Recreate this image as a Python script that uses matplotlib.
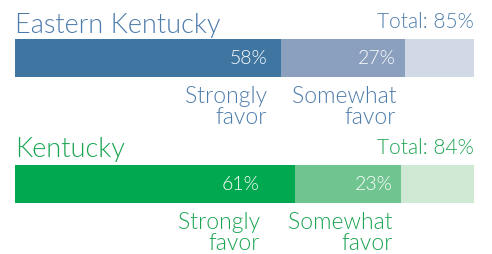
import matplotlib.pyplot as plt

# data
groups = ["Eastern Kentucky", "Kentucky"]
strongly = [58, 61]
somewhat = [27, 23]
totals = [85, 84]
segment_labels = ["Strongly\nfavor", "Somewhat\nfavor"]

# styling per group
dark = ["#3e76a1", "#00a84f"]
mid = ["#8aa0be", "#70c48f"]
light = ["#d2d9e6", "#cee8d4"]
text_col = ["#4d7cab", "#1ba552"]

W, H = 492, 255
FONT = "Lato"
WEIGHT = 300

fig = plt.figure(figsize=(W / 100, H / 100), dpi=100)
fig.patch.set_facecolor("white")

# bar top pixel rows and per-label pixel shifts (right edge offset from segment end)
bar_tops = [40, 166]
bar_h = 38
val_shift = [[-14, -9], [-35, -8]]
title_gap = [7, 9]

for i, name in enumerate(groups):
    top = bar_tops[i]
    ax = fig.add_axes([15 / W, 1 - (top + bar_h) / H, 459 / W, bar_h / H])
    ax.set_xlim(0, 100)
    ax.set_ylim(0, 1)
    ax.axis("off")

    vals = [strongly[i], somewhat[i]]
    ax.barh(0.5, 100, height=1, color=light[i], left=0)
    ax.barh(0.5, vals[0], height=1, color=dark[i], left=0)
    ax.barh(0.5, vals[1], height=1, color=mid[i], left=vals[0])

    ends = [vals[0], vals[0] + vals[1]]
    for j, end in enumerate(ends):
        dx = val_shift[i][j] * 0.72
        ax.annotate(f"{vals[j]}%", xy=(end, 0.5), xytext=(dx, 0),
                    textcoords="offset points", ha="right", va="center",
                    color="white", fontsize=14, family=FONT, fontweight=WEIGHT)
        ax.annotate(segment_labels[j], xy=(end, 0), xytext=(dx, -5.5),
                    textcoords="offset points", ha="right", va="top",
                    color=text_col[i], fontsize=16.5, family=FONT,
                    fontweight=WEIGHT, linespacing=1.02,
                    multialignment="right")

    ax.annotate(name, xy=(0, 1), xytext=(0, title_gap[i] * 0.72),
                textcoords="offset points", ha="left", va="baseline",
                color=text_col[i], fontsize=19.5, family=FONT, fontweight=WEIGHT)
    ax.annotate(f"Total: {totals[i]}%", xy=(100, 1), xytext=(0, 12 * 0.72),
                textcoords="offset points", ha="right", va="baseline",
                color=text_col[i], fontsize=15, family=FONT, fontweight=WEIGHT)

fig.savefig("out.png", dpi=100, facecolor="white")
